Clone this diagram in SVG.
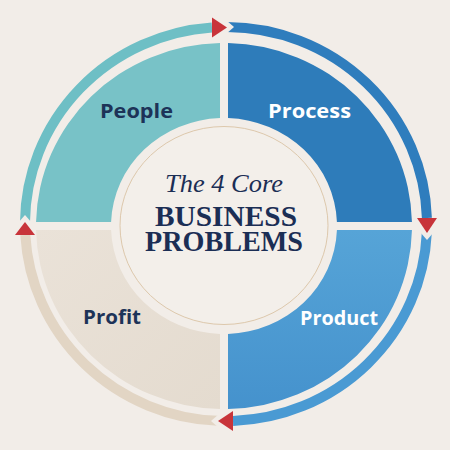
<svg xmlns="http://www.w3.org/2000/svg" width="450" height="450" viewBox="0 0 450 450">
<defs>
<style>
.bg{fill:#F2EDE8}
.band{fill:none;stroke-width:10;stroke-linecap:butt}
.cut{fill:#F2EDE8}
.head{fill:#C8343A}
.lbl{font-family:"Open Sans","Liberation Sans",sans-serif;font-weight:700;font-size:19px;text-anchor:middle}
.dark{fill:#1D3358}
.light{fill:#FFFFFF}
.ser{font-family:"Liberation Serif","Times New Roman",serif;fill:#1B2E55;text-anchor:middle}
</style>
<linearGradient id="gProduct" x1="0" y1="0" x2="0" y2="1">
<stop offset="0" stop-color="#56A4D7"/>
<stop offset="1" stop-color="#4592CD"/>
</linearGradient>
<linearGradient id="gProfit" x1="0" y1="0" x2="1" y2="1">
<stop offset="0" stop-color="#EAE2D8"/>
<stop offset="1" stop-color="#E4DBCF"/>
</linearGradient>
</defs>
<rect class="bg" x="0" y="0" width="450" height="450"/>

<g id="connectors">
<path class="band" stroke="#6EBFC5" d="M 25 222 A 201 197 0 0 1 212 27.48"/>
<polygon class="cut" points="18,223 32,223 25,215"/>
<path class="band" stroke="#2F7DBD" d="M 227 27 A 201 197 0 0 1 426.9 218"/>
<polygon class="cut" points="226,20 226,34 234,27"/>
<path class="band" stroke="#4A9AD3" d="M 426.8 233 A 201 197 0 0 1 233 420.9"/>
<polygon class="cut" points="420,232 434,232 427,240"/>
<path class="band" stroke="#E2D5C4" d="M 218 420.84 A 201 197 0 0 1 25.31 235"/>
<polygon class="cut" points="219,414 219,428 211,421"/>
<polygon class="head" points="212,17.5 212,37.5 227,27.5"/>
<polygon class="head" points="417,218 437,218 427,233"/>
<polygon class="head" points="233,411 233,431 218,421"/>
<polygon class="head" points="15,235 35,235 25,222"/>
</g>

<g id="people">
<path fill="#78C2C7" d="M 220 43.04 L 220 118.07 A 113 108 0 0 0 111.08 222 L 36.04 222 A 188 183 0 0 1 220 43.04 Z"/>
<text class="lbl dark" x="136.5" y="118" textLength="73" lengthAdjust="spacingAndGlyphs">People</text>
</g>
<g id="process">
<path fill="#2E7CBA" d="M 228 43.04 A 188 183 0 0 1 411.96 222 L 336.92 222 A 113 108 0 0 0 228 118.07 Z"/>
<text class="lbl light" x="309.5" y="118" textLength="83" lengthAdjust="spacingAndGlyphs">Process</text>
</g>
<g id="product">
<path fill="url(#gProduct)" d="M 411.96 230 A 188 183 0 0 1 228 408.96 L 228 333.93 A 113 108 0 0 0 336.92 230 Z"/>
<text class="lbl light" x="339" y="325" textLength="78" lengthAdjust="spacingAndGlyphs">Product</text>
</g>
<g id="profit">
<path fill="url(#gProfit)" d="M 220 408.96 A 188 183 0 0 1 36.04 230 L 111.08 230 A 113 108 0 0 0 220 333.93 Z"/>
<text class="lbl dark" x="112" y="324" textLength="58" lengthAdjust="spacingAndGlyphs">Profit</text>
</g>

<g id="center">
<ellipse cx="224" cy="225.5" rx="104" ry="99" fill="#F3EFEA" stroke="#DDC8AC" stroke-width="1"/>
<text class="ser" x="224" y="192" font-size="26" font-style="italic" textLength="118" lengthAdjust="spacingAndGlyphs">The 4 Core</text>
<text class="ser" x="226" y="226" font-size="29" font-weight="700" textLength="142" lengthAdjust="spacingAndGlyphs">BUSINESS</text>
<text class="ser" x="224" y="251" font-size="29" font-weight="700" textLength="158" lengthAdjust="spacingAndGlyphs">PROBLEMS</text>
</g>
</svg>
